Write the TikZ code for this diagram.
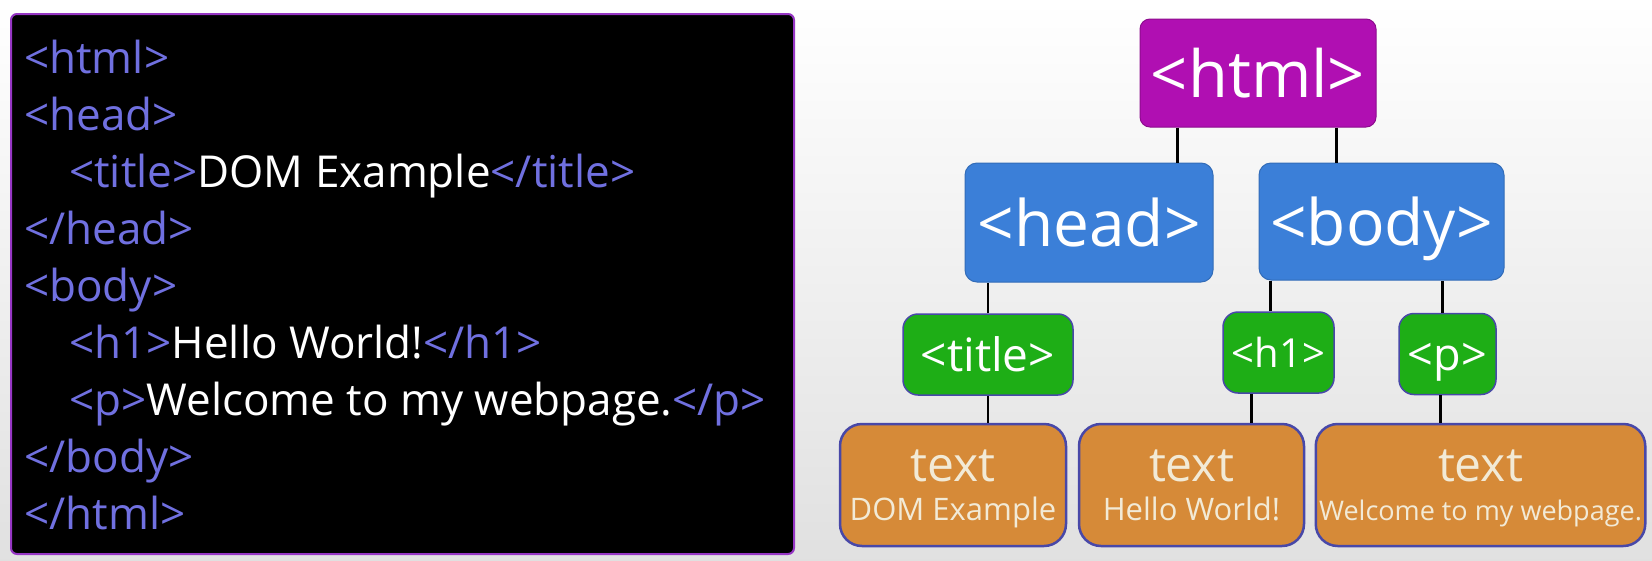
\documentclass[tikz,border=0pt]{standalone}
\usepackage{fontspec}
\setmainfont{Open Sans}
\usetikzlibrary{positioning}

\definecolor{tagblue}{HTML}{7070E0}
\definecolor{htmlpurple}{HTML}{B00FB2}
\definecolor{elemblue}{HTML}{3B7FD8}
\definecolor{leafgreen}{HTML}{1EAE16}
\definecolor{textorange}{HTML}{D68A38}
\definecolor{edgeblue}{HTML}{4848A8}
\definecolor{cream}{HTML}{F2EAD6}

\newcommand{\htag}[1]{\textcolor{tagblue}{#1}}

\begin{document}
\begin{tikzpicture}[
  x=1pt, y=-1pt,
  line width=2.5pt,
  code/.style={anchor=base west, inner sep=0pt, text=white, font=\fontsize{44}{50}\selectfont},
  root/.style={rectangle, rounded corners=10pt, fill=htmlpurple, draw=htmlpurple!80!black, line width=1pt, text=white, minimum width=236pt, minimum height=108pt, text height=48pt, text depth=0pt, font=\fontsize{65}{70}\selectfont},
  elem/.style={rectangle, rounded corners=12pt, fill=elemblue, draw=elemblue!85!black, line width=1pt, text=white, text height=47pt, text depth=0pt, font=\fontsize{64}{70}\selectfont},
  leaf/.style={rectangle, rounded corners=15pt, fill=leafgreen, draw=edgeblue, line width=1.5pt, text=white, minimum height=81pt, text depth=0pt},
  txt/.style={rectangle, rounded corners=22pt, fill=textorange, draw=edgeblue, line width=2.5pt, text=cream, minimum height=122pt, text depth=0pt, align=center}]

\useasboundingbox (0,0) rectangle (1652,560);
\shade[top color=white, middle color=gray!6, bottom color=gray!24] (0,0) rectangle (1652,560);

% source code
\draw[fill=black, draw=htmlpurple!60!tagblue, line width=2pt, rounded corners=6pt] (11,14) rectangle (794,554);

\node[code] (c1) at (23,73)  {\htag{<html>}};
\node[code] (c2) at (23,130) {\htag{<head>}};
\node[code] (c3) at (68,187) {\htag{<title>}DOM Example\htag{</title>}};
\node[code] (c4) at (23,244) {\htag{</head>}};
\node[code] (c5) at (23,301) {\htag{<body>}};
\node[code] (c6) at (68,358) {\htag{<h1>}Hello World!\htag{</h1>}};
\node[code] (c7) at (68,415) {\htag{<p>}Welcome to my webpage.\htag{</p>}};
\node[code] (c8) at (23,472) {\htag{</body>}};
\node[code] (c9) at (23,529) {\htag{</html>}};

% dom tree
\node[root] (html) at (1258,73) {<html>};
\node[elem, minimum width=248pt, minimum height=119pt] (head) at (1089,222.5) {<head>};
\node[elem, minimum width=245pt, minimum height=117pt] (body) at (1381.5,221.5) {<body>};

\node[leaf, minimum width=170pt, text height=34pt, font=\fontsize{46}{50}\selectfont] (title) at (988,354.5) {<title>};
\node[leaf, minimum width=111pt, text height=30pt, font=\fontsize{40}{50}\selectfont] (hone) at (1278.5,352.5) {<h1>};
\node[leaf, minimum width=97pt, text height=33pt, font=\fontsize{45}{50}\selectfont] (para) at (1447.5,354) {<p>};

\node[txt, minimum width=226pt, font=\fontsize{31}{39}\selectfont] (ttitle) at (953,485)
  {{\fontsize{48}{48}\selectfont text}\\DOM Example};
\node[txt, minimum width=225pt, font=\fontsize{31}{39}\selectfont] (thone) at (1191.5,485)
  {{\fontsize{48}{48}\selectfont text}\\Hello World!};
\node[txt, minimum width=327pt, font=\fontsize{27}{39}\selectfont] (tpara) at (1480.5,485)
  {{\fontsize{48}{48}\selectfont text}\\Welcome to my webpage.};

\draw ([xshift=38pt]html.south west) -- ([xshift=38pt]html.south west |- head.north);
\draw ([xshift=-40pt]html.south east) -- ([xshift=-40pt]html.south east |- body.north);
\draw (title.north) -- (title.north |- head.south);
\draw ([xshift=-8pt]hone.north) -- ([xshift=-8pt]hone.north |- body.south);
\draw ([xshift=-5pt]para.north) -- ([xshift=-5pt]para.north |- body.south);
\draw (title.south) -- (title.south |- ttitle.north);
\draw ([xshift=-27pt]hone.south) -- ([xshift=-27pt]hone.south |- thone.north);
\draw ([xshift=-7pt]para.south) -- ([xshift=-7pt]para.south |- tpara.north);

\end{tikzpicture}
\end{document}
